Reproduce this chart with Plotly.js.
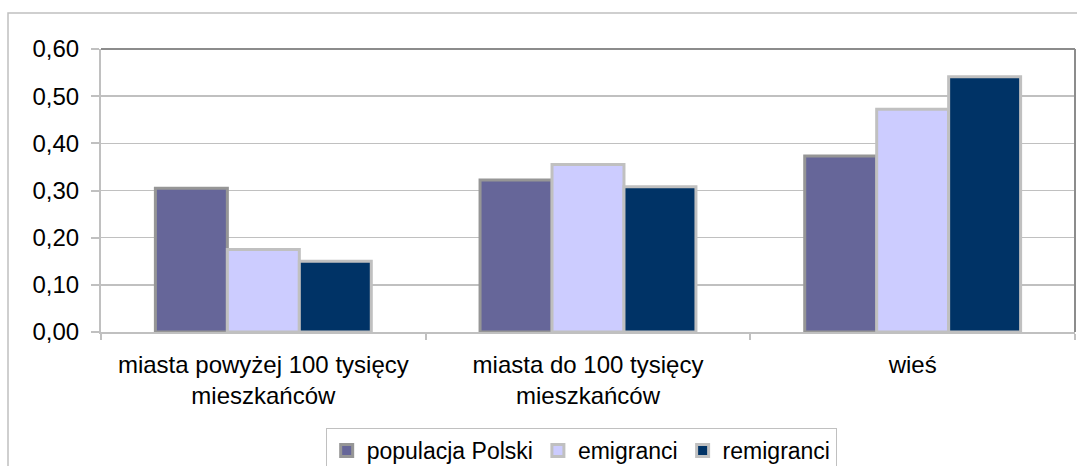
<!DOCTYPE html>
<html>
<head>
<meta charset="utf-8">
<script src="https://cdn.plot.ly/plotly-3.0.1.min.js"></script>
<style>
  html, body { margin: 0; padding: 0; background: #ffffff; }
  #chart { width: 1077px; height: 466px; }
</style>
</head>
<body>
<div id="chart"></div>
<script>
// Categories (x-axis tick labels)
const categories = [
  "miasta powyżej 100 tysięcy<br>mieszkańców",
  "miasta do 100 tysięcy<br>mieszkańców",
  "wieś"
];

// Series names
const seriesNames = ["populacja Polski", "emigranci", "remigranci"];

// Series values
const populacjaPolski = [0.305, 0.322, 0.373];
const emigranci = [0.175, 0.355, 0.472];
const remigranci = [0.150, 0.308, 0.541];

// Y-axis ticks
const yTickValues = [0, 0.1, 0.2, 0.3, 0.4, 0.5, 0.6];

const fontFamily = '"Liberation Sans", Arial, sans-serif';

const traces = [
  {
    type: 'bar', name: seriesNames[0], x: categories, y: populacjaPolski,
    marker: { color: '#666699', line: { color: '#969696', width: 3 } },
    hoverinfo: 'skip'
  },
  {
    type: 'bar', name: seriesNames[1], x: categories, y: emigranci,
    marker: { color: '#ccccff', line: { color: '#c0c0c0', width: 3 } },
    hoverinfo: 'skip'
  },
  {
    type: 'bar', name: seriesNames[2], x: categories, y: remigranci,
    marker: { color: '#003366', line: { color: '#c0c0c0', width: 3 } },
    hoverinfo: 'skip'
  }
];

const layout = {
  width: 1077,
  height: 466,
  margin: { l: 101, r: 2, t: 49, b: 134, pad: 0, autoexpand: false },
  paper_bgcolor: '#ffffff',
  plot_bgcolor: '#ffffff',
  separators: ',.',
  font: { family: fontFamily, size: 24, color: '#000000' },
  barmode: 'group',
  bargap: 0.335,
  bargroupgap: 0,
  showlegend: true,
  legend: {
    orientation: 'h',
    x: 0.493, xanchor: 'center',
    y: -0.339, yanchor: 'top',
    bordercolor: '#c0c0c0', borderwidth: 1,
    bgcolor: '#ffffff',
    font: { family: fontFamily, size: 23, color: '#000000' },
    traceorder: 'normal'
  },
  xaxis: {
    type: 'category',
    showgrid: false,
    showline: true, linecolor: '#c0c0c0', linewidth: 2,
    ticks: 'outside', tickson: 'boundaries', ticklen: 6, tickcolor: '#c0c0c0', tickwidth: 2,
    ticklabelstandoff: 10,
    tickfont: { family: fontFamily, size: 24, color: '#000000' },
    fixedrange: true, zeroline: false
  },
  yaxis: {
    range: [0, 0.6],
    tickvals: yTickValues,
    tickformat: '.2f',
    showgrid: true, gridcolor: '#c0c0c0', gridwidth: 1.5,
    showline: true, linecolor: '#c0c0c0', linewidth: 2,
    ticks: 'outside', ticklen: 8, tickcolor: '#c0c0c0', tickwidth: 2,
    ticklabelstandoff: 7,
    tickfont: { family: fontFamily, size: 24, color: '#000000' },
    fixedrange: true, zeroline: false
  },
  shapes: [
    {
      type: 'rect', xref: 'paper', yref: 'paper',
      xsizemode: 'pixel', ysizemode: 'pixel', xanchor: 0, yanchor: 1,
      x0: -93, x1: 990, y0: 36, y1: -430,
      line: { color: '#c0c0c0', width: 1.5 }, fillcolor: 'rgba(0,0,0,0)', layer: 'below'
    },
    {
      type: 'line', xref: 'paper', yref: 'paper', x0: 0, x1: 1, y0: 1, y1: 1,
      line: { color: '#8c8c8c', width: 2 }
    },
    {
      type: 'line', xref: 'paper', yref: 'paper', x0: 1, x1: 1, y0: 0, y1: 1,
      line: { color: '#8c8c8c', width: 2 }
    }
  ]
};

Plotly.newPlot('chart', traces, layout, { displayModeBar: false, staticPlot: true });
</script>
</body>
</html>
